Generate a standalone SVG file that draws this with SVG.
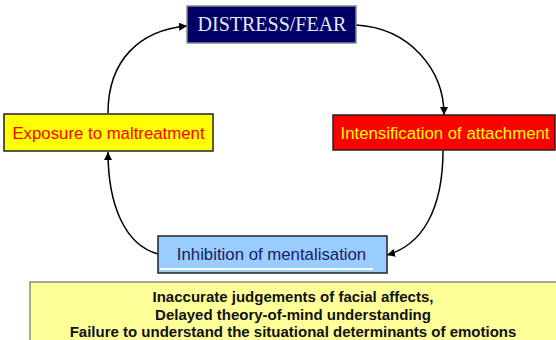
<svg xmlns="http://www.w3.org/2000/svg" width="556" height="340" viewBox="0 0 556 340">
<defs>
<marker id="ah" viewBox="0 0 10 10" refX="10" refY="5" markerWidth="8" markerHeight="8" markerUnits="userSpaceOnUse" orient="auto">
<path d="M0,0 L10,5 L0,10 Z" fill="#000"/>
</marker>
</defs>
<style>
.box{stroke:#222;stroke-width:1.5}
.lbl{font-family:"Liberation Sans",Arial,sans-serif;font-size:16.8px;text-anchor:middle}
.conn{fill:none;stroke:#000;stroke-width:1.5;marker-end:url(#ah)}
.note{font-family:"Liberation Sans",Arial,sans-serif;font-size:15px;font-weight:bold;text-anchor:middle;fill:#111}
</style>
<rect width="556" height="340" fill="#fff"/>
<g id="connectors">
<path class="conn" d="M108,113 C108,60 140,30 187,26"/>
<path class="conn" d="M356,25 C410,28 444,70 444,115"/>
<path class="conn" d="M443,150 C443,210 422,245 387,255"/>
<path class="conn" d="M158,254 C125,245 108,205 108,152"/>
</g>
<g id="distress">
<rect x="187" y="6" width="169" height="37" fill="#000066" stroke="#888" stroke-width="1.5"/>
<text x="272" y="31" font-family="'Liberation Serif','Times New Roman',serif" font-size="20" fill="#E6E6F5" text-anchor="middle">DISTRESS/FEAR</text>
</g>
<g id="exposure">
<rect class="box" x="4" y="114" width="209" height="37" fill="#FFFF00"/>
<text class="lbl" x="108.5" y="139" fill="#FF0000">Exposure to maltreatment</text>
</g>
<g id="intensification">
<rect class="box" x="333" y="115" width="222" height="35" fill="#FF0000"/>
<text class="lbl" x="445" y="139" fill="#FFFF00">Intensification of attachment</text>
</g>
<g id="inhibition">
<rect class="box" x="158" y="236" width="229" height="37" fill="#99CCFF"/>
<rect x="160" y="268" width="213" height="2" fill="#fff"/>
<text class="lbl" x="271.5" y="260" fill="#1A1A66">Inhibition of mentalisation</text>
</g>
<g id="outcomes">
<rect x="30" y="282" width="530" height="62" fill="#FFFF99" stroke="#555" stroke-width="1"/>
<text class="note" x="293" y="302">Inaccurate judgements of facial affects,</text>
<text class="note" x="293" y="319.5">Delayed theory-of-mind understanding</text>
<text class="note" x="293" y="337">Failure to understand the situational determinants of emotions</text>
</g>
</svg>
